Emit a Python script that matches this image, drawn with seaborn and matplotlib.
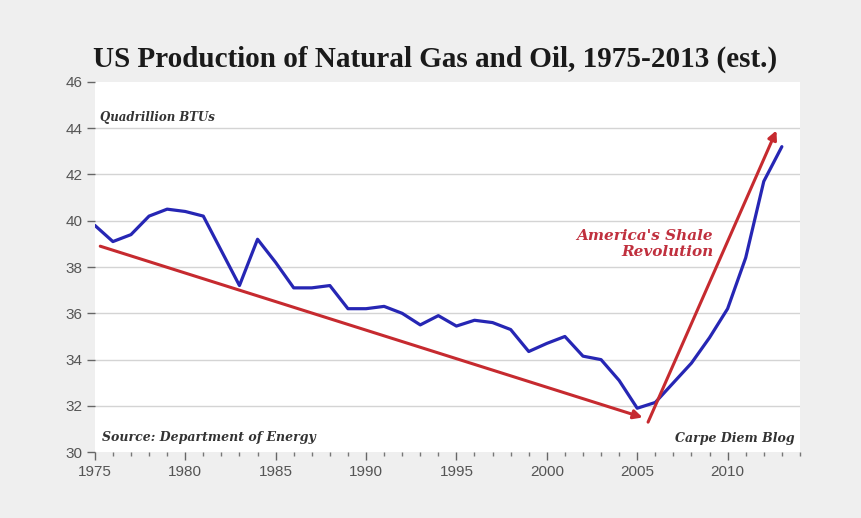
import pandas as pd
import matplotlib.pyplot as plt
import seaborn as sns
from matplotlib.ticker import MultipleLocator

# data (quadrillion BTUs)
years = list(range(1975, 2014))
production = [39.8, 39.1, 39.4, 40.2, 40.5, 40.4, 40.2, 38.7, 37.2, 39.2,
              38.2, 37.1, 37.1, 37.2, 36.2, 36.2, 36.3, 36.0, 35.5, 35.9,
              35.45, 35.7, 35.6, 35.3, 34.35, 34.7, 35.0, 34.15, 34.0, 33.1,
              31.9, 32.15, 33.0, 33.85, 34.95, 36.2, 38.4, 41.7, 43.2]

# the two red trend arrows (start, end)
decline_x = [1975.3, 2005.3]
decline_y = [38.9, 31.5]
shale_x = [2005.6, 2012.7]
shale_y = [31.3, 43.9]

y_ticks = list(range(30, 47, 2))

df = pd.DataFrame({"Year": years, "Production": production})

sns.set_style("white")
plt.rcParams["font.family"] = ["Liberation Sans", "DejaVu Sans"]
red = "#c62a2f"
blue = "#2626b4"

fig = plt.figure(figsize=(8.62, 5.18), dpi=100)
fig.patch.set_facecolor("#efefef")
ax = fig.add_axes([0.110, 0.127, 0.818, 0.715])
ax.set_facecolor("white")

sns.lineplot(data=df, x="Year", y="Production", color=blue, linewidth=2.3, ax=ax)

ax.annotate("", xy=(decline_x[1], decline_y[1]), xytext=(decline_x[0], decline_y[0]),
            arrowprops=dict(arrowstyle="-|>", color=red, lw=2.2, mutation_scale=13,
                            shrinkA=0, shrinkB=0))
ax.annotate("", xy=(shale_x[1], shale_y[1]), xytext=(shale_x[0], shale_y[0]),
            arrowprops=dict(arrowstyle="-|>", color=red, lw=2.2, mutation_scale=13,
                            shrinkA=0, shrinkB=0))

ax.set_xlim(1975, 2014)
ax.set_ylim(30, 46)
ax.set_yticks(y_ticks)
ax.xaxis.set_major_locator(MultipleLocator(5))
ax.xaxis.set_minor_locator(MultipleLocator(1))
ax.yaxis.grid(True, color="#d4d4d4", linewidth=1)
ax.set_axisbelow(True)
for s in ax.spines.values():
    s.set_visible(False)
ax.tick_params(axis="both", which="major", direction="out", length=6, width=1,
               color="#666666", labelcolor="#555555", labelsize=11, pad=3,
               bottom=True, left=True)
ax.tick_params(axis="x", which="minor", direction="out", length=3, width=1,
               color="#777777", bottom=True)
ax.set_xlabel("")
ax.set_ylabel("")
fig.canvas.draw()
gl = ax.yaxis.get_gridlines()
gl[0].set_visible(False)
gl[-1].set_visible(False)

serif = "DejaVu Serif"
ax.text(1975.3, 44.45, "Quadrillion BTUs", fontfamily=serif, fontstyle="italic",
        fontweight="bold", fontsize=8.5, color="#333333", va="center")
ax.text(1975.4, 30.65, "Source: Department of Energy", fontfamily=serif, fontstyle="italic",
        fontweight="bold", fontsize=9, color="#333333", va="center")
ax.text(2013.7, 30.6, "Carpe Diem Blog", fontfamily=serif, fontstyle="italic",
        fontweight="bold", fontsize=9, color="#333333", va="center", ha="right")
ax.text(2009.2, 39.0, "America's Shale\nRevolution", fontfamily=serif, fontstyle="italic",
        fontweight="bold", fontsize=11, color="#c0303e", va="center", ha="right",
        linespacing=1.15)

fig.text(0.505, 0.885, "US Production of Natural Gas and Oil, 1975-2013 (est.)",
         fontfamily="Liberation Serif", fontweight="bold", fontsize=21, color="#1a1a1a",
         ha="center", va="center")

fig.savefig("out.png", dpi=100, facecolor=fig.get_facecolor())
